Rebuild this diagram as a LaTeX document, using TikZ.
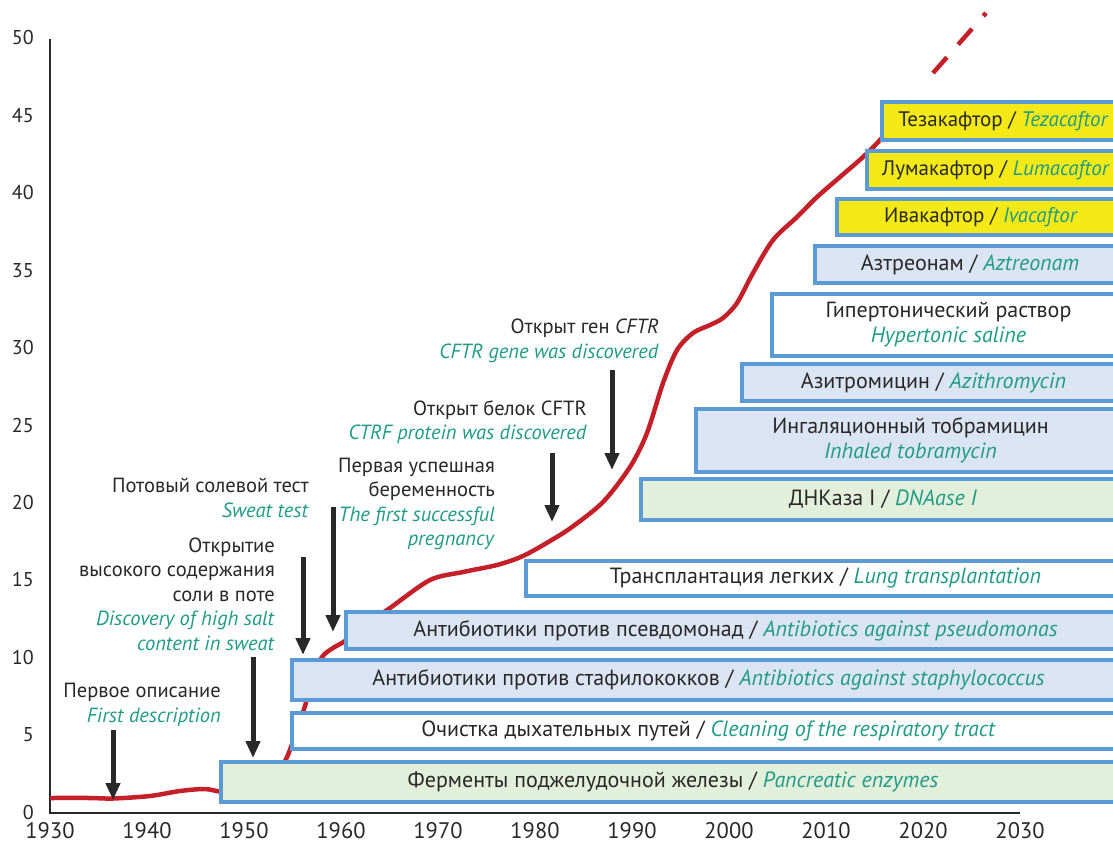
\documentclass[tikz,border=0pt]{standalone}
\usepackage{fontspec}
\setmainfont{PT Sans}
\usetikzlibrary{arrows.meta}
\definecolor{curvered}{RGB}{196,32,42}
\definecolor{boxblue}{RGB}{91,155,213}
\definecolor{fillblue}{RGB}{218,228,242}
\definecolor{fillgreen}{RGB}{226,239,218}
\definecolor{fillyellow}{RGB}{243,233,22}
\definecolor{engteal}{RGB}{32,155,135}
\definecolor{inkgray}{RGB}{40,40,40}
\newcommand{\eng}[1]{\textcolor{engteal}{\textit{#1}}}
\begin{document}
\begin{tikzpicture}[x=1pt, y=-1pt,
	every node/.style={font=\fontsize{20.5}{24.5}\selectfont, text=inkgray, inner sep=0pt},
	box/.style={draw=boxblue, line width=4pt, anchor=west, align=center, minimum width=1123pt-#1pt, font=\fontsize{22}{25}\selectfont},
	newdrug/.style={fill=fillyellow, font=\fontsize{21}{25}\selectfont},
	label/.style={anchor=east, align=right},
	arr/.style={draw=inkgray, line width=5pt, -{Triangle[width=14pt,length=17pt]}}]
	\useasboundingbox (0,0) rectangle (1113,845);
	\clip (0,0) rectangle (1113,845);
		\draw[inkgray, line width=1.3pt] (50,39) -- (50,813) -- (1020,813);
		\foreach \v in {0,5,...,50}
			\node[anchor=east, font=\fontsize{20}{24}\selectfont] (y\v) at (34,{812-\v*15.48}) {\v};
		\foreach \yr in {1930,1940,...,2030}
			\node[font=\fontsize{22.5}{26}\selectfont] (x\yr) at ({50+(\yr-1930)*9.7},831) {\yr};
		\draw[curvered, line width=4.5pt] plot [smooth] coordinates {(50,798) (90,798) (113,798.5) (150,796) (180,791) (205,789) (225,792) (255,788) (276,775) (287,757) (297,730) (305,706) (313,678) (322,657) (333,648) (345,641) (365,625) (390,608) (430,580) (463,572) (497,565) (523,556) (550,541) (572,527) (603,502) (630,467) (647,433) (663,383) (677,350) (693,333) (710,325) (723,318) (737,303) (753,273) (773,240) (797,217) (817,197) (840,177) (863,157) (880,140) (898,118)};
		\coordinate (p0) at (933,73);
		\coordinate (p1) at (986,13);
		\draw[curvered, line width=4.5pt, dash pattern=on 21pt off 17pt] (p0) -- (p1);
		\node[box=219, fill=fillgreen, minimum height=40pt] (enz) at (219,782) {Ферменты поджелудочной железы / \eng{Pancreatic enzymes}};
		\node[box=290, fill=white, minimum height=36pt] (clean) at (290,731) {Очистка дыхательных путей / \eng{Cleaning of the respiratory tract}};
		\node[box=290, fill=fillblue, minimum height=40pt] (staph) at (290,680) {Антибиотики против стафилококков / \eng{Antibiotics against staphylococcus}};
		\node[box=344, fill=fillblue, minimum height=37pt] (pseudo) at (344,630.5) {Антибиотики против псевдомонад / \eng{Antibiotics against pseudomonas}};
		\node[box=524, fill=white, minimum height=35pt] (lung) at (524,578) {Трансплантация легких / \eng{Lung transplantation}};
		\node[box=639, fill=fillgreen, minimum height=41pt] (dnase) at (639,499.5) {ДНКаза I / \eng{DNAase I}};
		\node[box=694, fill=fillblue, minimum height=63pt] (tobra) at (694,440.5) {Ингаляционный тобрамицин\\ \eng{Inhaled tobramycin}};
		\node[box=740, fill=fillblue, minimum height=37pt] (azi) at (740,382.5) {Азитромицин / \eng{Azithromycin}};
		\node[box=770, fill=white, minimum height=62pt] (saline) at (770,325) {Гипертонический раствор\\ \eng{Hypertonic saline}};
		\node[box=813, fill=fillblue, minimum height=37pt] (aztr) at (813,264.5) {Азтреонам / \eng{Aztreonam}};
		\node[box=835, newdrug, minimum height=36pt] (iva) at (835,217) {Ивакафтор / \eng{Ivacaftor}};
		\node[box=865, newdrug, minimum height=38pt] (luma) at (865,170) {Лумакафтор / \eng{Lumacaftor}};
		\node[box=880, newdrug, minimum height=38pt] (teza) at (880,121) {Тезакафтор / \eng{Tezacaftor}};
		\node[label] (first) at (221,705) {Первое описание\\ \eng{First description}};
		\node[label] (salt) at (275,594) {Открытие\\высокого содержания\\соли в поте\\ \eng{Discovery of high salt}\\ \eng{content in sweat}};
		\node[label] (sweat) at (309,498) {Потовый солевой тест\\ \eng{Sweat test}};
		\node[label] (preg) at (495,504) {Первая успешная\\беременность\\ \eng{The first successful}\\ \eng{pregnancy}};
		\node[label] (prot) at (587,422) {Открыт белок CFTR\\ \eng{CTRF protein was discovered}};
		\node[label] (gene) at (659,341) {Открыт ген \textit{CFTR}\\ \eng{CFTR gene was discovered}};
		\coordinate (a1) at (113,730); \coordinate (b1) at (113,800);
		\coordinate (a2) at (253,657); \coordinate (b2) at (253,758);
		\coordinate (a3) at (303,557); \coordinate (b3) at (303,655);
		\coordinate (a4) at (333,507); \coordinate (b4) at (333,632);
		\coordinate (a5) at (552,453); \coordinate (b5) at (552,522);
		\coordinate (a6) at (612,370); \coordinate (b6) at (612,470);
		\foreach \i in {1,...,6}
			\draw[arr] (a\i) -- (b\i);
\end{tikzpicture}
\end{document}
